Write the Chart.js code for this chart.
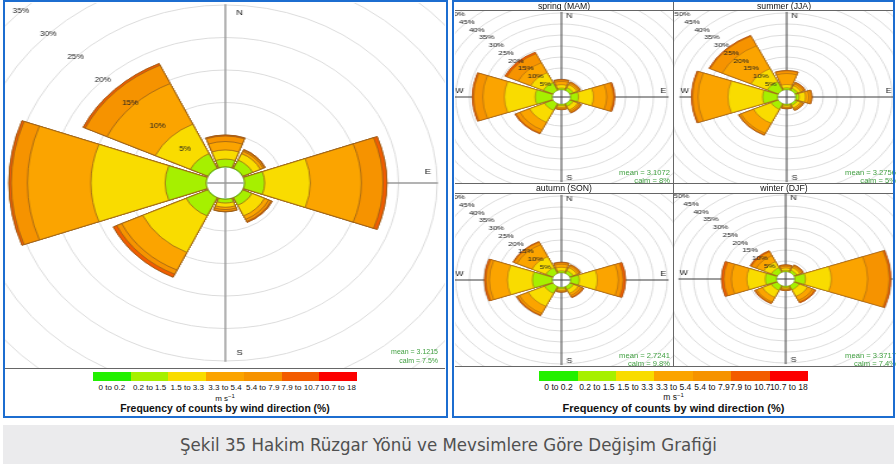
<!DOCTYPE html>
<html>
<head>
<meta charset="utf-8">
<script src="https://cdn.jsdelivr.net/npm/chart.js@4.4.1/dist/chart.umd.min.js"></script>
<style>
  body { margin: 0; width: 896px; height: 464px; position: relative; background: #fff; overflow: hidden;
         font-family: "Liberation Sans", Arial, sans-serif; }
  .abs { position: absolute; }
  .box { position: absolute; border: 2.5px solid #1c6dd0; box-sizing: border-box; z-index: 5; }
  .hline { position: absolute; height: 1px; background: #666; z-index: 4; }
  .vline { position: absolute; width: 1px; background: #666; z-index: 4; }
  .strip { position: absolute; text-align: center; font-size: 8.7px; line-height: 10px; color: #111; z-index: 3; }
  .stat { position: absolute; text-align: right; color: #3f9f3f; line-height: 1; white-space: nowrap; z-index: 3; }
  .lab { position: absolute; text-align: center; line-height: 1; white-space: nowrap; color: #111; }
</style>
</head>
<body>

<script>
// wind sectors (45 degree bins) and speed classes
var directions = ['N', 'NE', 'E', 'SE', 'S', 'SW', 'W', 'NW'];
var speedBins = ['0 to 0.2', '0.2 to 1.5', '1.5 to 3.3', '3.3 to 5.4', '5.4 to 7.9', '7.9 to 10.7', '10.7 to 18'];
var binColours = ['#22f000', '#a6f000', '#f9dc00', '#fba400', '#f69300', '#f35c00', '#fc0000'];
var ringTicks = [5, 10, 15, 20, 25, 30, 35, 40, 45, 50, 55, 60, 65, 70];

// frequency (%) of each speed class, one row per direction N..NW
var annualFreq = [
  [0.1, 1.2, 1.4, 1.3, 0.85, 0.15, 0],
  [0.1, 1.4, 1.1, 0.4, 0.2, 0.1, 0],
  [0.1, 2.6, 5.9, 6.6, 2.8, 0.5, 0],
  [0.1, 1.3, 1.8, 0.6, 0.35, 0.15, 0],
  [0.1, 0.6, 0.65, 0.35, 0.3, 0.05, 0],
  [0.1, 3.1, 6.2, 3.0, 0.7, 0.5, 0],
  [0.1, 5.3, 9.6, 8.2, 2.1, 0.3, 0],
  [0.1, 2.5, 5.0, 6.9, 3.1, 0.3, 0]
];
var springFreq = [
  [0.1, 0.8, 1.5, 1.5, 0.7, 0.2, 0],
  [0.1, 1.4, 1.5, 0.7, 0.5, 0.2, 0],
  [0.1, 2.9, 5.4, 4.8, 2.4, 0.5, 0],
  [0.1, 1.4, 1.8, 0.7, 0.6, 0.2, 0],
  [0.1, 0.7, 0.7, 0.5, 0.5, 0.1, 0],
  [0.1, 3.4, 6.0, 3.8, 1.6, 0.4, 0],
  [0.1, 6.2, 11.1, 7.8, 3.3, 0.5, 0],
  [0.1, 3.9, 5.0, 5.0, 4.5, 0.8, 0]
];
var summerFreq = [
  [0.1, 0.9, 1.5, 5.0, 1.2, 0.2, 0],
  [0.1, 1.1, 1.3, 0.9, 0.6, 0.2, 0],
  [0.1, 1.2, 2.3, 1.2, 1.0, 0.2, 0],
  [0.1, 0.9, 1.3, 0.7, 0.5, 0.1, 0],
  [0.1, 0.6, 0.7, 0.4, 0.3, 0.1, 0],
  [0.1, 2.9, 7.0, 5.0, 0.8, 0.2, 0],
  [0.1, 5.4, 12.5, 10.8, 2.0, 0.4, 0],
  [0.1, 4.4, 6.5, 11.5, 4.8, 0.4, 0]
];
var autumnFreq = [
  [0.1, 0.9, 1.6, 1.4, 0.7, 0.2, 0],
  [0.1, 1.4, 1.5, 0.8, 0.5, 0.2, 0],
  [0.1, 3.2, 6.5, 7.6, 1.7, 0.9, 0],
  [0.1, 1.5, 1.9, 1.1, 0.8, 0.3, 0],
  [0.1, 0.7, 0.7, 0.5, 0.3, 0.1, 0],
  [0.1, 3.4, 6.5, 3.5, 0.9, 0.3, 0],
  [0.1, 7.2, 9.0, 6.5, 1.2, 0.6, 0],
  [0.1, 2.9, 5.5, 6.0, 1.3, 0.3, 0]
];
var winterFreq = [
  [0.1, 0.7, 1.0, 0.8, 0.5, 0.2, 0],
  [0.1, 1.1, 1.3, 0.7, 0.5, 0.2, 0],
  [0.1, 3.9, 9.3, 13.1, 7.8, 0.6, 0],
  [0.1, 2.1, 3.3, 2.0, 0.9, 0.4, 0],
  [0.1, 0.6, 0.6, 0.4, 0.3, 0.1, 0],
  [0.1, 2.4, 3.5, 2.3, 0.6, 0.3, 0],
  [0.1, 4.1, 6.6, 5.6, 2.7, 0.9, 0],
  [0.1, 2.4, 3.0, 3.0, 2.0, 0.5, 0]
];
var seasonTitles = ['spring (MAM)', 'summer (JJA)', 'autumn (SON)', 'winter (DJF)'];
var meanSpeeds = ['3.1215', '3.1072', '3.2756', '2.7241', '3.3717'];
var calmShares = ['7.5%', '8%', '5%', '9.8%', '7.4%'];

var wedgeAngle = 40, gapAngle = 5;

// draws axes, compass letters, calm hole and ring labels around the polar area
var rosePlugin = {
  id: 'rose',
  beforeDatasetsDraw: function(chart, args, o) {
    var s = chart.scales.r, ctx = chart.ctx;
    var xc = s.xCenter, yc = s.yCenter;
    var R = s.getDistanceFromCenterForValue(o.axisTo);
    ctx.save();
    ctx.strokeStyle = o.axisColour;
    ctx.lineWidth = o.axisWidth;
    ctx.beginPath();
    ctx.moveTo(xc - R, yc); ctx.lineTo(xc + R, yc);
    ctx.moveTo(xc, yc - R); ctx.lineTo(xc, yc + R);
    ctx.stroke();
    var L = s.getDistanceFromCenterForValue(o.letterAt);
    ctx.fillStyle = '#222';
    ctx.font = o.letterSize + 'px "Liberation Sans", Arial';
    ctx.textAlign = 'center';
    ctx.textBaseline = 'middle';
    ctx.fillText('N', xc + o.letterDx, yc - L);
    ctx.fillText('S', xc + o.letterDx, yc + L);
    ctx.fillText('E', xc + L, yc - o.letterDy);
    ctx.fillText('W', xc - L, yc - o.letterDy);
    ctx.restore();
  },
  afterDatasetsDraw: function(chart, args, o) {
    var s = chart.scales.r, ctx = chart.ctx;
    var xc = s.xCenter, yc = s.yCenter;
    var h = s.getDistanceFromCenterForValue(0);
    ctx.save();
    ctx.fillStyle = '#fff';
    ctx.beginPath();
    ctx.arc(xc, yc, h, 0, Math.PI * 2);
    ctx.fill();
    ctx.strokeStyle = o.axisColour;
    ctx.lineWidth = o.axisWidth;
    ctx.beginPath();
    ctx.moveTo(xc - h, yc); ctx.lineTo(xc + h, yc);
    ctx.moveTo(xc, yc - h); ctx.lineTo(xc, yc + h);
    ctx.stroke();
    ctx.fillStyle = '#222';
    ctx.font = o.tickSize + 'px "Liberation Sans", Arial';
    ctx.textAlign = 'center';
    ctx.textBaseline = 'middle';
    ringTicks.forEach(function(v) {
      var d = s.getDistanceFromCenterForValue(v) * Math.SQRT1_2;
      ctx.fillText(v + '%', xc - d, yc - d);
    });
    ctx.restore();
  }
};

function addDiv(cls, css, text) {
  var d = document.createElement('div');
  d.className = cls;
  d.style.cssText = css;
  if (text !== undefined) d.innerHTML = text;
  document.body.appendChild(d);
  return d;
}

// box = [left, top, width, height] of the clipped plot region, centre in page px
function makeRose(freq, box, centre, g) {
  var wrap = addDiv('abs', 'overflow:hidden;left:' + box[0] + 'px;top:' + box[1] + 'px;width:' + box[2] + 'px;height:' + box[3] + 'px;');
  var cxr = centre[0] - box[0], cyr = centre[1] - box[1];
  var halfU = Math.ceil(Math.max(cxr, box[2] - cxr) / g.sx) + 1;
  var halfH = Math.ceil(Math.max(cyr, box[3] - cyr)) + 1;
  var cv = document.createElement('canvas');
  cv.width = 2 * halfU;
  cv.height = 2 * halfH;
  cv.style.cssText = 'position:absolute;left:' + (cxr - halfU * g.sx) + 'px;top:' + (cyr - halfH) + 'px;' +
    'width:' + (2 * halfU) + 'px;height:' + (2 * halfH) + 'px;transform:scaleX(' + g.sx + ');transform-origin:0 0;';
  wrap.appendChild(cv);

  var lo = -g.hole / g.k;
  var hi = lo + Math.min(halfU, halfH) / g.k;

  var labels = [];
  directions.forEach(function(d) { labels.push(d); labels.push(''); });
  var datasets = [];
  for (var c = 0; c < speedBins.length; c++) {
    var data = [];
    freq.forEach(function(row) {
      var cum = 0;
      for (var j = 0; j <= c; j++) cum += row[j];
      data.push(+cum.toFixed(2));
      data.push(0);
    });
    datasets.push({
      label: speedBins[c],
      data: data,
      backgroundColor: data.map(function(v, i) { return i % 2 ? 'rgba(0,0,0,0)' : binColours[c]; }),
      borderColor: 'rgba(150,95,25,0.85)',
      borderWidth: data.map(function(v, i) { return i % 2 ? 0 : g.border; }),
      angle: function(ctx) { return ctx.dataIndex % 2 ? gapAngle : wedgeAngle; }
    });
  }

  new Chart(cv, {
    type: 'polarArea',
    data: { labels: labels, datasets: datasets },
    plugins: [rosePlugin],
    options: {
      responsive: false,
      animation: false,
      events: [],
      layout: { padding: 0 },
      plugins: {
        legend: { display: false },
        tooltip: { enabled: false },
        rose: g
      },
      scales: {
        r: {
          min: lo,
          max: hi,
          startAngle: -wedgeAngle / 2,
          ticks: { display: false },
          angleLines: { display: false },
          pointLabels: { display: false },
          grid: { color: '#dcdcdc', lineWidth: 1 },
          afterBuildTicks: function(scale) {
            scale.ticks = ringTicks.map(function(v) { return { value: v }; });
          }
        }
      }
    }
  });
}

function makeLegend(x0, width, y0, labelSize, titleSize, centreX) {
  var w = width / speedBins.length;
  speedBins.forEach(function(b, i) {
    addDiv('abs', 'left:' + (x0 + i * w) + 'px;top:' + y0 + 'px;width:' + (w + 0.3) + 'px;height:9.5px;background:' + binColours[i] + ';');
    addDiv('lab', 'left:' + (x0 + i * w - 10) + 'px;width:' + (w + 20) + 'px;top:' + (y0 + 12) + 'px;font-size:' + labelSize + 'px;', b);
  });
  addDiv('lab', 'left:' + (centreX - 40) + 'px;width:80px;top:' + (y0 + 21) + 'px;font-size:' + labelSize + 'px;', 'm s<sup style="font-size:6px;vertical-align:3px">&minus;1</sup>');
  addDiv('lab', 'left:' + (centreX - 150) + 'px;width:300px;top:' + (y0 + 32) + 'px;font-size:' + titleSize + 'px;font-weight:bold;', 'Frequency of counts by wind direction (%)');
}

function stat(rightX, top, size, i) {
  addDiv('stat', 'left:' + (rightX - 120) + 'px;width:120px;top:' + top + 'px;font-size:' + size + 'px;', 'mean = ' + meanSpeeds[i]);
  addDiv('stat', 'left:' + (rightX - 120) + 'px;width:120px;top:' + (top + 8.5) + 'px;font-size:' + size + 'px;', 'calm = ' + calmShares[i]);
}

// left panel: whole year
var bigGeo = { sx: 1.19, k: 6.5, hole: 15.5, border: 0.9, axisTo: 25.1, axisColour: '#9a9a9a', axisWidth: 1.5,
               letterAt: 23.8, letterDx: 12, letterDy: 11, letterSize: 8, tickSize: 6.8 };
makeRose(annualFreq, [5, 3, 440, 365], [225, 183], bigGeo);
stat(438, 348, 7, 0);
addDiv('hline', 'left:5px;top:368px;width:440px;');
makeLegend(93, 264, 371.5, 8, 10.4, 225);
addDiv('box', 'left:3px;top:0px;width:445px;height:418px;');

// right panel: seasons
var smallGeo = { sx: 1.26, k: 2.2, hole: 7, border: 0.6, axisTo: 35.5, axisColour: '#3c3c3c', axisWidth: 1,
                 letterAt: 33.6, letterDx: 6.3, letterDy: 5.6, letterSize: 7, tickSize: 6.2 };
var seasonFreq = [springFreq, summerFreq, autumnFreq, winterFreq];
var cellX = [[455, 218], [673, 222]];
var cellY = [[1, 10, 173], [183, 193, 173]];
var centres = [[561.3, 97.3], [786.3, 97.3], [561.3, 280], [786, 279.3]];
for (var p = 0; p < 4; p++) {
  var cx = cellX[p % 2], cy = cellY[Math.floor(p / 2)];
  addDiv('strip', 'left:' + cx[0] + 'px;top:' + cy[0] + 'px;width:' + cx[1] + 'px;height:' + (cy[1] - cy[0]) + 'px;', seasonTitles[p]);
  makeRose(seasonFreq[p], [cx[0], cy[1], cx[1], cy[2]], centres[p], smallGeo);
  stat(p % 2 ? 896 : 670, cy[1] + cy[2] - 14.5, 7.6, p + 1);
}
addDiv('hline', 'left:455px;top:10px;width:439px;');
addDiv('hline', 'left:455px;top:183px;width:439px;');
addDiv('hline', 'left:455px;top:193px;width:439px;');
addDiv('hline', 'left:455px;top:366px;width:439px;');
addDiv('vline', 'left:673px;top:0px;height:366px;');
makeLegend(539.3, 268.7, 371, 8.5, 11, 673.5);
addDiv('box', 'left:452px;top:0px;width:443px;height:418px;');

// caption
addDiv('abs', 'left:3px;top:425px;width:891px;height:39px;background:#ebebed;text-align:center;line-height:39px;' +
  'font-family:"Liberation Sans Narrow","DejaVu Sans Condensed",sans-serif;font-size:18.5px;color:#505050;',
  'Şekil 35 Hakim Rüzgar Yönü ve Mevsimlere Göre Değişim Grafiği');
</script>
</body>
</html>
